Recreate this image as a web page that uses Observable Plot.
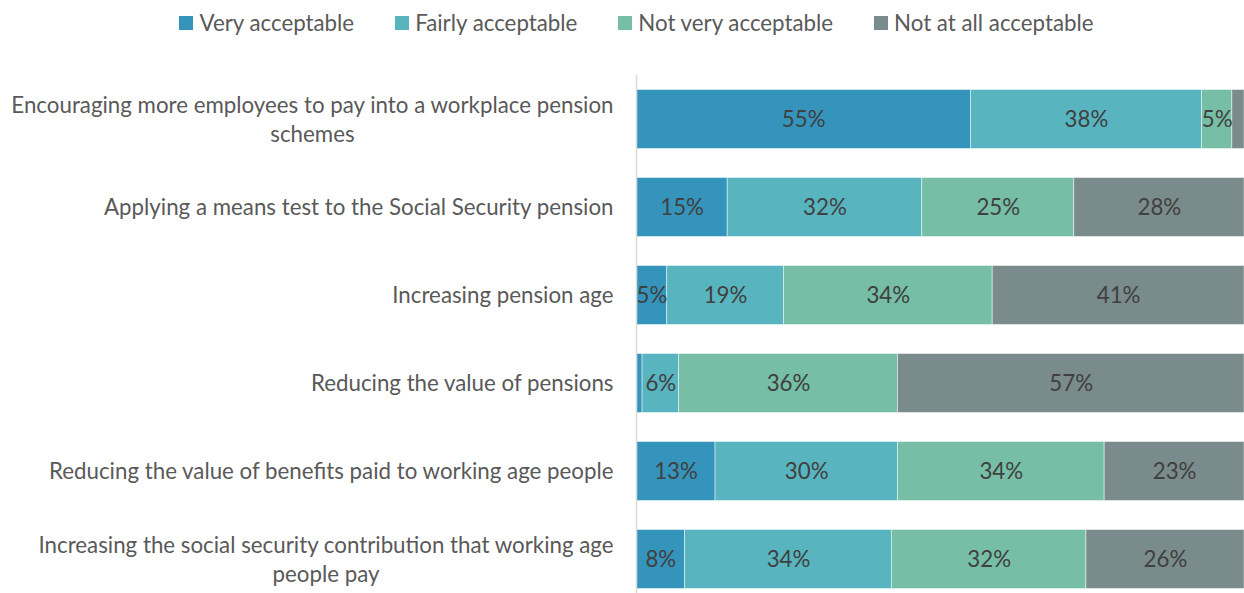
<!DOCTYPE html>
<html>
<head>
<meta charset="utf-8">
<script src="https://cdn.jsdelivr.net/npm/d3@7"></script>
<script src="https://cdn.jsdelivr.net/npm/@observablehq/plot@0.6"></script>
<style>
  html, body { margin: 0; padding: 0; background: #fff; }
  body { width: 1244px; height: 593px; overflow: hidden; font-family: Lato, "Open Sans", sans-serif; }
  #legend { height: 45px; display: flex; justify-content: center; align-items: center; gap: 0 41px; font-size: 22.3px; color: #595959; padding-left: 29px; box-sizing: border-box; }
  #legend .item { display: flex; align-items: center; }
  #legend .sw { width: 14px; height: 14px; margin-right: 6px; display: inline-block; }
</style>
</head>
<body>
<div id="legend"></div>
<div id="chart"></div>
<script>
const categories = [
  "Encouraging more employees to pay into a workplace pension schemes",
  "Applying a means test to the Social Security pension",
  "Increasing pension age",
  "Reducing the value of pensions",
  "Reducing the value of benefits paid to working age people",
  "Increasing the social security contribution that working age people pay"
];
const categoryLines = [
  ["Encouraging more employees to pay into a workplace pension", "schemes"],
  ["Applying a means test to the Social Security pension"],
  ["Increasing pension age"],
  ["Reducing the value of pensions"],
  ["Reducing the value of benefits paid to working age people"],
  ["Increasing the social security contribution that working age", "people pay"]
];
const series = ["Very acceptable", "Fairly acceptable", "Not very acceptable", "Not at all acceptable"];
const veryAcceptable     = [55, 15, 5, 1, 13, 8];
const fairlyAcceptable   = [38, 32, 19, 6, 30, 34];
const notVeryAcceptable  = [5, 25, 34, 36, 34, 32];
const notAtAllAcceptable = [2, 28, 41, 57, 23, 26];
const colors = ["#3594BC", "#58B5BF", "#76BEA6", "#7A8B8B"];

const seriesValues = [veryAcceptable, fairlyAcceptable, notVeryAcceptable, notAtAllAcceptable];
const data = [];
categories.forEach((c, i) => {
  series.forEach((s, j) => data.push({category: c, series: s, value: seriesValues[j][i]}));
});

// Legend
const legend = document.getElementById("legend");
series.forEach((s, j) => {
  const it = document.createElement("span");
  it.className = "item";
  const sw = document.createElement("span");
  sw.className = "sw";
  sw.style.background = colors[j];
  it.appendChild(sw);
  it.appendChild(document.createTextNode(s));
  legend.appendChild(it);
});

const lineMap = new Map(categories.map((c, i) => [c, categoryLines[i].join("\n")]));

const chart = Plot.plot({
  width: 1244,
  height: 548,
  marginLeft: 636,
  marginRight: 0,
  marginTop: 30,
  marginBottom: 0,
  style: {fontFamily: "Lato, 'Open Sans', sans-serif", fontSize: "22.3px", color: "#595959", background: "#fff", overflow: "visible"},
  x: {domain: [0, 1], axis: null},
  y: {domain: categories, range: [30, 558], padding: 0, axis: null},
  color: {domain: series, range: colors},
  marks: [
    Plot.barX(data, Plot.stackX({
      x: "value", y: "category", fill: "series", z: "series", offset: "normalize",
      insetTop: 14.5, insetBottom: 14.5,
      stroke: "#ffffff", strokeWidth: 0.8, strokeOpacity: 0.6
    })),
    Plot.text(data, Plot.stackX({
      x: "value", y: "category", z: "series", offset: "normalize",
      text: d => d.value >= 3 ? d.value + "%" : "",
      fill: "#404040", fontSize: 22.3
    })),
    Plot.axisY({
      domain: categories,
      tickSize: 0, tickPadding: 23,
      tickFormat: d => lineMap.get(d),
      lineHeight: 1.3,
      dy: -1.5,
      fill: "#595959",
      fontSize: 22.3,
      label: null
    }),
    Plot.ruleX([0], {stroke: "#D9D9D9", strokeWidth: 1.5})
  ]
});
document.getElementById("chart").appendChild(chart);

// center multi-line labels within their own block (right-aligned block)
chart.querySelectorAll("g[aria-label='y-axis tick label'] text").forEach(t => {
  const tspans = t.querySelectorAll("tspan");
  if (tspans.length > 1) {
    let maxW = 0;
    tspans.forEach(ts => { maxW = Math.max(maxW, ts.getComputedTextLength()); });
    t.setAttribute("text-anchor", "middle");
    tspans.forEach(ts => ts.setAttribute("x", -maxW / 2));
  }
});
</script>
</body>
</html>
